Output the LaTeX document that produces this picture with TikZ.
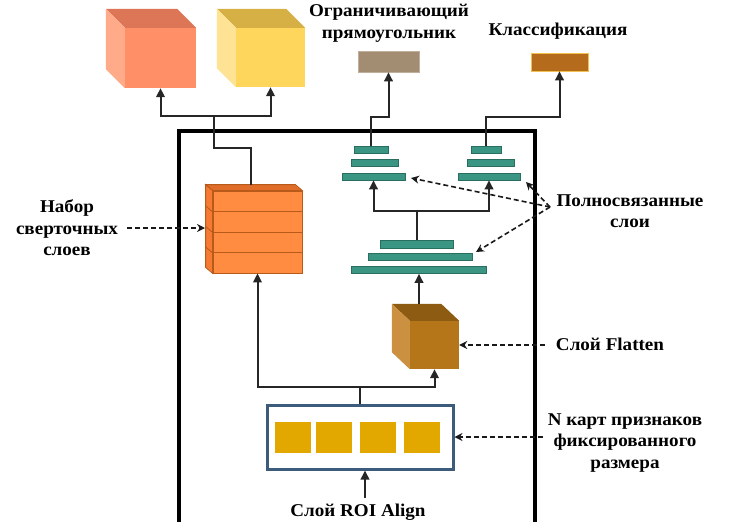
\documentclass[tikz,border=0pt]{standalone}
\usepackage{fontspec}
\setmainfont{Liberation Serif}[FakeStretch=1.06]
\usetikzlibrary{arrows.meta}
\definecolor{tealf}{HTML}{3A9682}
\definecolor{teald}{HTML}{2A6E60}
\definecolor{orF}{HTML}{FF8F66}
\definecolor{orT}{HTML}{DD7656}
\definecolor{orL}{HTML}{FFAA88}
\definecolor{yeF}{HTML}{FFD65C}
\definecolor{yeT}{HTML}{D6B045}
\definecolor{yeL}{HTML}{FFE394}
\definecolor{flF}{HTML}{B5761A}
\definecolor{flT}{HTML}{8E5B12}
\definecolor{flL}{HTML}{CB9040}
\definecolor{stF}{HTML}{FF8C40}
\definecolor{stD}{HTML}{B85A1A}
\definecolor{stL}{HTML}{F57A32}
\definecolor{stT}{HTML}{E06E2A}
\definecolor{bxA}{HTML}{A38D72}
\definecolor{bxB}{HTML}{B46C1C}
\definecolor{roiB}{HTML}{3D5B7A}
\definecolor{roiS}{HTML}{E3A800}
\begin{document}
\begin{tikzpicture}[x=1pt,y=-1pt,
  ln/.style={line width=2pt, draw=black!85},
  arr/.style={ln, -{Triangle[width=8.5pt,length=9pt]}},
  dsh/.style={line width=1.6pt, draw=black!90, dash pattern=on 5pt off 3pt, -{Stealth[width=8pt,length=8pt]}},
  lbl/.style={font=\bfseries\fontsize{18}{21.5}\selectfont, align=center, inner sep=1pt},
  bar/.style={draw=teald, fill=tealf, line width=0.6pt, inner sep=0pt, minimum height=7pt},
  face/.style={inner sep=0pt, draw=none},
  layer/.style={draw=stD, fill=stF, line width=0.8pt, inner sep=0pt, minimum width=89pt, minimum height=20.5pt},
  sq/.style={fill=roiS, draw=none, inner sep=0pt, minimum width=36pt, minimum height=31pt}
]
\useasboundingbox (0,0) rectangle (735,522);

% outer frame
\draw[line width=4pt] (179,522) -- (179,131) -- (535,131) -- (535,522);

% top cubes
\node[face, fill=orF, minimum width=71pt, minimum height=60pt] (cubeA) at (160.5,58) {};
\fill[orT] (cubeA.north west) -- ++(-19,-19) -- ([shift={(-19,-19)}]cubeA.north east) -- (cubeA.north east) -- cycle;
\fill[orL] (cubeA.north west) -- ++(-19,-19) -- ([shift={(-19,-19)}]cubeA.south west) -- (cubeA.south west) -- cycle;
\node[face, fill=yeF, minimum width=69pt, minimum height=59pt] (cubeB) at (270.5,57.5) {};
\fill[yeT] (cubeB.north west) -- ++(-19,-19) -- ([shift={(-19,-19)}]cubeB.north east) -- (cubeB.north east) -- cycle;
\fill[yeL] (cubeB.north west) -- ++(-19,-19) -- ([shift={(-19,-19)}]cubeB.south west) -- (cubeB.south west) -- cycle;

% output boxes
\node[face, fill=bxA, draw=bxA!70!white, line width=0.6pt, minimum width=61pt, minimum height=21pt] (boxA) at (388.5,61.5) {};
\node[face, fill=bxB, draw=yeF!80!bxB, line width=0.6pt, minimum width=57pt, minimum height=18pt] (boxB) at (559.5,62) {};
\node[lbl] (labA) at (389,23) {Ограничивающий\\прямоугольник};
\node[lbl] (labB) at (558,31) {Классификация};

% conv stack
\node[layer] (cv1) at (257.5,201.25) {};
\node[layer] (cv2) at (257.5,221.75) {};
\node[layer] (cv3) at (257.5,242.25) {};
\node[layer] (cv4) at (257.5,262.75) {};
\filldraw[fill=stT, draw=stD, line width=0.8pt] (cv1.north west) -- ++(-7,-6) -- ([shift={(-7,-6)}]cv1.north east) -- (cv1.north east) -- cycle;
\filldraw[fill=stL, draw=stD, line width=0.8pt] (cv1.north west) -- ++(-7,-6) -- ([shift={(-7,-6)}]cv4.south west) -- (cv4.south west) -- cycle;
\foreach \c in {cv1,cv2,cv3}{
  \draw[stD, line width=0.8pt] (\c.south west) -- ++(-7,-6);
}
\node[lbl] (labCv) at (67,228) {Набор\\сверточных\\слоев};

% fully connected bars
\node[bar, minimum width=34pt, minimum height=6.5pt] (sb1) at (371,150) {};
\node[bar, minimum width=47pt, minimum height=6.5pt] (sb2) at (374.5,163) {};
\node[bar, minimum width=63pt] (sb3) at (373.5,176.5) {};
\node[bar, minimum width=30pt, minimum height=6.5pt] (rb1) at (486,150) {};
\node[bar, minimum width=47pt, minimum height=6.5pt] (rb2) at (490.5,163) {};
\node[bar, minimum width=62pt] (rb3) at (489,176.5) {};
\node[bar, minimum width=73pt, minimum height=8pt] (bb1) at (416.5,244) {};
\node[bar, minimum width=104pt] (bb2) at (420,256.5) {};
\node[bar, minimum width=135pt] (bb3) at (418.5,270) {};
\node[lbl] (labFc) at (630,211) {Полносвязанные\\слои};

% flatten cube
\node[face, fill=flF, minimum width=49pt, minimum height=48pt] (flat) at (434.5,345) {};
\fill[flT] (flat.north west) -- ++(-18,-17) -- ([shift={(-18,-17)}]flat.north east) -- (flat.north east) -- cycle;
\fill[flL] (flat.north west) -- ++(-18,-17) -- ([shift={(-18,-17)}]flat.south west) -- (flat.south west) -- cycle;
\node[lbl] (labFl) at (610,344) {Слой Flatten};

% ROI box
\node[draw=roiB, line width=3pt, fill=white, inner sep=0pt, minimum width=186pt, minimum height=64pt] (roi) at (360,437) {};
\node[sq] (q1) at (292.5,437.5) {};
\node[sq] (q2) at (334,437.5) {};
\node[sq] (q3) at (378,437.5) {};
\node[sq] (q4) at (421.5,437.5) {};
\node[lbl] (labN) at (625,443) {N карт признаков\\фиксированного\\размера};
\node[lbl] (labRoi) at (358,512) {Слой ROI Align};

% coordinates
\coordinate (jt) at (214,116);
\coordinate (c2) at (214,148);
\coordinate (c1) at (251,148);
\coordinate (ct) at (251,185);
\coordinate (k1) at (388.5,117);
\coordinate (k2) at (559.5,117);
\coordinate (fcj) at (416.5,211);
\coordinate (ft) at (419,304);
\coordinate (bj) at (360,387);
\coordinate (rs) at (365,498);
\coordinate (cvl) at (205,228);
\coordinate (fcs) at (550,207);
\coordinate (fce1) at (411,178);
\coordinate (fce2) at (526,182);
\coordinate (fce3) at (476,252);
\coordinate (fle) at (545,345);
\coordinate (rle) at (543,437);
\coordinate (cvs) at (127,228);

% connectors
\draw[ln] (ct) -- (c1) -- (c2) -- (jt);
\draw[arr] (jt) -| (cubeA.south);
\draw[arr] (jt) -| (cubeB.south);
\draw[arr] (sb1.north) |- (k1) -- (boxA.south);
\draw[arr] (rb1.north) |- (k2) -- (boxB.south);
\draw[ln] (bb1.north) -- (fcj);
\draw[arr] (fcj) -| (sb3.south);
\draw[arr] (fcj) -| (rb3.south);
\draw[arr] (ft) -- (ft |- bb3.south);
\draw[ln] (roi.north) -- (bj);
\draw[arr] (bj) -| (cv4.south);
\draw[arr] (bj) -| (flat.south);
\draw[arr] (rs) -- (rs |- roi.south);

% dashed pointers
\draw[dsh] (cvs) -- (cvl);
\draw[dsh] (fcs) -- (fce1);
\draw[dsh] (fcs) -- (fce2);
\draw[dsh] (fcs) -- (fce3);
\draw[dsh] (fle) -- (flat.east);
\draw[dsh] (rle) -- (roi.east);
\end{tikzpicture}
\end{document}
